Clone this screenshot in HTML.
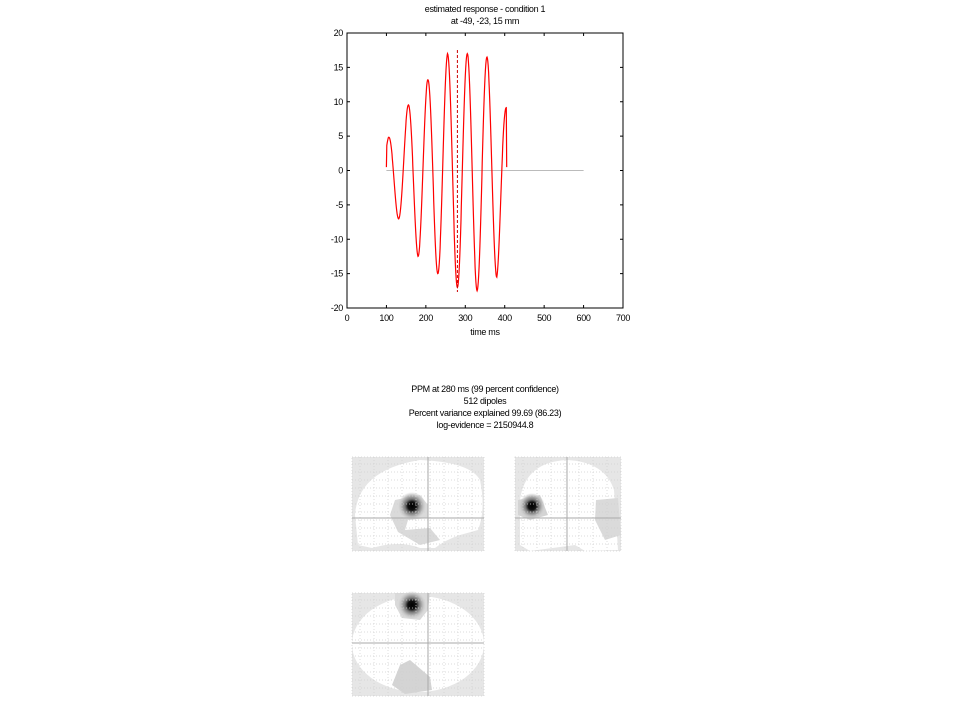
<!DOCTYPE html>
<html><head><meta charset="utf-8"><style>
html,body{margin:0;padding:0;background:#fff;width:960px;height:720px;overflow:hidden}
svg{position:absolute;left:0;top:0}
text{font-family:"Liberation Sans",sans-serif;font-size:9px;fill:#000;letter-spacing:-0.3px}
</style></head><body>
<svg id="s" width="960" height="720" xmlns="http://www.w3.org/2000/svg">
<text x="485" y="12" text-anchor="middle">estimated response - condition 1</text>
<text x="485" y="24" text-anchor="middle">at -49, -23, 15 mm</text>
<rect x="347" y="33" width="276" height="275" fill="none" stroke="#000" stroke-width="1"/>
<g id="ticks" stroke="#000" stroke-width="1"></g>
<g id="lab"></g>
<line x1="386.4" y1="170.5" x2="583.6" y2="170.5" stroke="#bbb" stroke-width="1"/>
<polyline id="sig" fill="none" stroke="#f00" stroke-width="1.2"/>
<line x1="457.4" y1="50" x2="457.4" y2="292" stroke="#c00" stroke-width="1" stroke-dasharray="3,2"/>
<text x="485" y="335" text-anchor="middle">time  ms</text>
<text x="485" y="392" text-anchor="middle">PPM at 280 ms (99 percent confidence)</text>
<text x="485" y="404" text-anchor="middle">512 dipoles</text>
<text x="485" y="416" text-anchor="middle">Percent variance explained 99.69 (86.23)</text>
<text x="485" y="428" text-anchor="middle">log-evidence = 2150944.8</text>
<defs>
<radialGradient id="blob"><stop offset="0" stop-color="#000"/><stop offset="0.3" stop-color="#111"/><stop offset="0.5" stop-color="#777"/><stop offset="0.75" stop-color="#b8b8b8"/><stop offset="1" stop-color="#ccc" stop-opacity="0"/></radialGradient>
</defs>
<g>
<rect x="352" y="457" width="132" height="94" fill="#e6e6e6"/>
<path d="M355 515 Q358 470 420 460 Q470 462 480 480 Q486 510 478 530 L460 535 Q445 540 435 548 L420 548 Q400 540 372 548 L358 545 Z" fill="#fff"/>
<path d="M395 500 L420 495 L428 505 L428 518 L408 520 L405 530 L430 528 L440 540 L420 545 L398 532 L390 515 Z" fill="#dadada"/>
<circle cx="412" cy="506" r="14" fill="url(#blob)"/>
</g>
<g>
<rect x="515" y="457" width="106" height="94" fill="#e6e6e6"/>
<path d="M520 500 Q525 462 567 460 Q605 462 614 490 L618 550 L585 551 L575 545 L530 551 L520 545 Z" fill="#fff"/>
<path d="M596 500 L618 498 L621 535 L605 540 L595 520 Z" fill="#dadada"/>
<path d="M518 500 L540 495 L548 515 L530 520 L518 515 Z" fill="#d4d4d4"/>
<circle cx="532" cy="506" r="13" fill="url(#blob)"/>
</g>
<g>
<rect x="352" y="593" width="132" height="103" fill="#e6e6e6"/>
<ellipse cx="418" cy="644" rx="66" ry="48" fill="#fff"/>
<path d="M395 593 L430 593 L428 610 L420 620 L402 618 L395 605 Z" fill="#dadada"/>
<path d="M400 665 L410 660 L430 677 L432 690 L405 694 L392 685 Z" fill="#d4d4d4"/>
<circle cx="412" cy="605" r="14" fill="url(#blob)"/>
</g>
<g id="grids" stroke="#d0d0d0" stroke-width="0.7" stroke-dasharray="1,2" fill="none"></g>
<g stroke="#aaa" stroke-width="1">
<line x1="428" y1="457" x2="428" y2="551"/><line x1="352" y1="518" x2="484" y2="518"/>
<line x1="567" y1="457" x2="567" y2="551"/><line x1="515" y1="518" x2="621" y2="518"/>
<line x1="428" y1="593" x2="428" y2="696"/><line x1="352" y1="643" x2="484" y2="643"/>
</g>
</svg>
<script>
var NS="http://www.w3.org/2000/svg";
function el(p,t,a,txt){var e=document.createElementNS(NS,t);for(var k in a)e.setAttribute(k,a[k]);if(txt!==undefined)e.textContent=txt;document.getElementById(p).appendChild(e);}
function X(t){return 347+t*0.3943;}function Y(v){return 170.5-v*6.875;}
for(var t=0;t<=700;t+=100){var x=X(t);el("ticks","line",{x1:x,y1:308,x2:x,y2:305});el("ticks","line",{x1:x,y1:33,x2:x,y2:36});el("lab","text",{x:x,y:321,"text-anchor":"middle"},t);}
for(var v=-20;v<=20;v+=5){var y=Y(v);el("ticks","line",{x1:347,y1:y,x2:350,y2:y});el("ticks","line",{x1:623,y1:y,x2:620,y2:y});el("lab","text",{x:343,y:y+3,"text-anchor":"end"},v);}
var env=[[100,4],[105,4.8],[130,7],[155,9.5],[180,12.5],[205,13.2],[230,15],[255,17],[280,17],[305,17],[330,17.5],[355,16.5],[380,15.5],[400,10],[405,9]];
function E(t){for(var i=0;i<env.length-1;i++){if(t<=env[i+1][0]){var a=env[i],b=env[i+1];return a[1]+(b[1]-a[1])*(t-a[0])/(b[0]-a[0]);}}return 9;}
var pts=[];for(var t=100;t<=405;t+=1){var v=E(t)*Math.cos(2*Math.PI*(t-105)/50);if(t==100)v=0.5;if(t==405)v=0.5;pts.push(X(t).toFixed(1)+","+Y(v).toFixed(1));}
document.getElementById("sig").setAttribute("points",pts.join(" "));
function grid(x0,y0,w,h){for(var x=x0+8;x<x0+w;x+=14)el("grids","line",{x1:x,y1:y0,x2:x,y2:y0+h});for(var y=y0+7;y<y0+h;y+=8)el("grids","line",{x1:x0,y1:y,x2:x0+w,y2:y});el("grids","rect",{x:x0,y:y0,width:w,height:h});}
grid(352,457,132,94);grid(515,457,106,94);grid(352,593,132,103);
</script>
</body></html>
